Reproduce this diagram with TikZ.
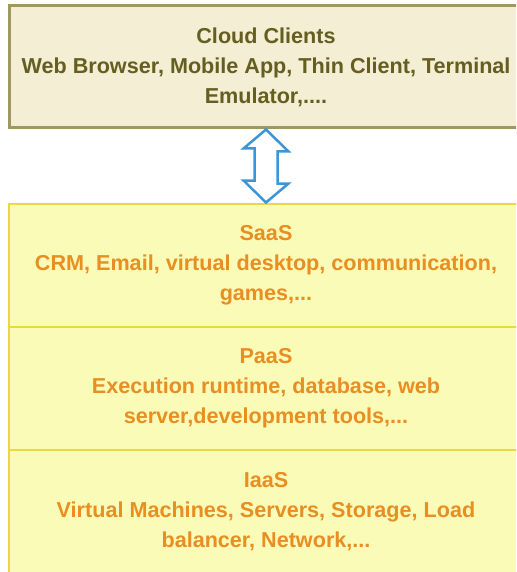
\documentclass[tikz,border=0pt]{standalone}
\usepackage{fontspec}
\setmainfont{Liberation Sans}
\usetikzlibrary{positioning}
\definecolor{clientfill}{RGB}{243,238,212}
\definecolor{clientline}{RGB}{160,152,98}
\definecolor{clienttext}{RGB}{102,94,32}
\definecolor{layerfill}{RGB}{250,251,182}
\definecolor{layerline}{RGB}{234,216,64}
\definecolor{layertext}{RGB}{232,142,34}
\definecolor{arrowblue}{RGB}{58,150,216}
\tikzset{
  clientbox/.style={draw=clientline, line width=3pt, fill=clientfill, text=clienttext,
    minimum width=514pt, minimum height=122pt, outer sep=0pt, align=center,
    font=\fontsize{21.6}{30}\selectfont\bfseries},
  layerbox/.style={draw=layerline, line width=2.5pt, fill=layerfill, text=layertext,
    minimum width=514pt, minimum height=123pt, outer sep=0pt, align=center,
    font=\fontsize{21.6}{30}\selectfont\bfseries},
  updown/.style={draw=arrowblue, line width=2.5pt, fill=white, line join=miter}
}
\begin{document}
\begin{tikzpicture}[x=1pt,y=-1pt]
\useasboundingbox (0,0) rectangle (516,572);
\clip (0,0) rectangle (516,572);

\node[clientbox] (clients) at (266,67) {Cloud Clients\\Web Browser, Mobile App, Thin Client, Terminal\\Emulator,....};

\node[layerbox] (saas) at (266,265.5) {SaaS\\CRM, Email, virtual desktop, communication,\\games,...};
\node[layerbox, below=0pt of saas] (paas) {PaaS\\Execution runtime, database, web\\server,development tools,...};
\node[layerbox, below=0pt of paas] (iaas) {IaaS\\Virtual Machines, Servers, Storage, Load\\balancer, Network,...};

% double arrow between clients and the service layers
\draw[updown] ([yshift=-1.5pt]clients.south) -- ++(22.5,22) -- ++(-11,0) -- ++(0,32)
  -- ++(11,0) -- ([yshift=1.5pt]saas.north) -- ++(-22.5,-22) -- ++(11,0) -- ++(0,-32)
  -- ++(-11,0) -- cycle;
\end{tikzpicture}
\end{document}
